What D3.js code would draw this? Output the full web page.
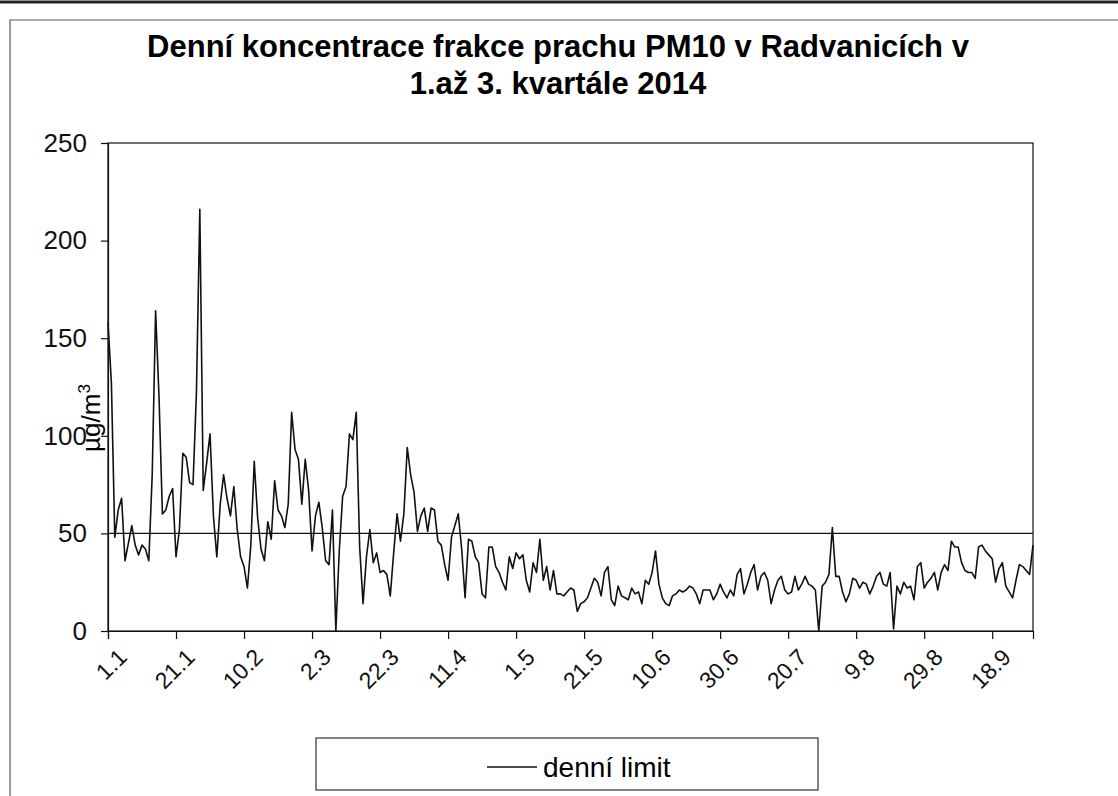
<!DOCTYPE html>
<html>
<head>
<meta charset="utf-8">
<script src="https://cdn.jsdelivr.net/npm/d3@7"></script>
<style>
  body { margin: 0; background: #fff; }
  svg { display: block; font-family: "Liberation Sans", Arial, sans-serif; }
</style>
</head>
<body>
<svg id="chart" width="1118" height="796"></svg>
<script>
// chart texts
const titleLines = ["Denní koncentrace frakce prachu PM10 v Radvanicích v", "1.až 3. kvartále 2014"];
const yTicks = [0, 50, 100, 150, 200, 250];
const tickEvery = 20;
const limitValue = 50;
const legendLabel = "denní limit";

// daily PM10, 1.1.2014 - 30.9.2014 (µg/m3)
const pm10 = [
  158, 127, 48, 62, 68, 36, 45, 54, 44, 39,
  44, 42, 36, 80, 164, 120, 60, 62, 69, 73,
  38, 52, 91, 89, 76, 75, 122, 216, 72, 86,
  101, 59, 38, 65, 80, 68, 59, 74, 52, 38,
  33, 22, 44, 87, 58, 42, 36, 56, 47, 77,
  62, 59, 53, 65, 112, 93, 88, 65, 88, 72,
  41, 59, 66, 53, 36, 34, 62, 0, 41, 69,
  74, 101, 98, 112, 43, 14, 38, 52, 35, 40,
  30, 31, 29, 18, 40, 60, 46, 60, 94, 80,
  71, 51, 59, 63, 51, 63, 62, 46, 44, 34,
  26, 48, 54, 60, 42, 17, 47, 46, 38, 35,
  19, 17, 43, 43, 33, 30, 25, 21, 38, 32,
  40, 37, 39, 26, 20, 35, 30, 47, 26, 33,
  21, 31, 19, 19, 18, 20, 22, 21, 10, 14,
  15, 17, 22, 27, 25, 18, 30, 33, 16, 13,
  23, 18, 17, 16, 22, 19, 20, 14, 26, 24,
  30, 41, 24, 17, 14, 13, 18, 19, 21, 20,
  21, 23, 22, 19, 14, 21, 21, 21, 16, 19,
  24, 20, 17, 21, 18, 29, 32, 19, 24, 30,
  34, 21, 28, 30, 26, 14, 21, 26, 28, 21,
  19, 20, 28, 21, 24, 28, 24, 23, 21, 0,
  23, 25, 29, 53, 28, 28, 20, 15, 19, 27,
  26, 22, 25, 24, 19, 23, 28, 30, 24, 23,
  30, 1, 23, 19, 25, 22, 23, 16, 33, 35,
  22, 25, 27, 30, 21, 30, 34, 31, 46, 43,
  43, 35, 31, 30, 30, 27, 43, 44, 41, 39,
  37, 25, 32, 35, 23, 20, 17, 26, 34, 33,
  31, 29, 44
];

const days = d3.timeDay.range(new Date(2014, 0, 1), new Date(2014, 9, 1));
const fmt = d3.timeFormat("%-d.%-m");
const tickIdx = d3.range(0, days.length, tickEvery);

const svg = d3.select("#chart");

// frame of the chart sheet
svg.append("line")
  .attr("x1", 0).attr("x2", 1118).attr("y1", 2).attr("y2", 2)
  .attr("stroke", "#222").attr("stroke-width", 3);
svg.append("path")
  .attr("d", "M10,796V20H1118")
  .attr("fill", "none").attr("stroke", "#555").attr("stroke-width", 1.2);

// title
svg.append("g").selectAll("text")
  .data(titleLines)
  .enter().append("text")
  .attr("x", 558)
  .attr("y", (d, i) => 57 + i * 37)
  .attr("text-anchor", "middle")
  .style("font-size", "31px")
  .style("font-weight", "bold")
  .text(d => d);

// scales
const x = d3.scaleLinear().domain([0, days.length - 1]).range([108, 1033]);
const y = d3.scaleLinear().domain([0, 250]).range([631, 143]);

// plot border
svg.append("rect")
  .attr("x", x(0)).attr("y", y(250))
  .attr("width", x(days.length - 1) - x(0))
  .attr("height", y(0) - y(250))
  .attr("fill", "none").attr("stroke", "#111").attr("stroke-width", 1.2);

// y axis
const yAxis = svg.append("g")
  .attr("transform", "translate(" + x(0) + ",0)")
  .call(d3.axisLeft(y).tickValues(yTicks).tickSize(7).tickPadding(14));
yAxis.selectAll("text").style("font-size", "26px").attr("fill", "#111");

// x axis
const xAxis = svg.append("g")
  .attr("transform", "translate(0," + y(0) + ")")
  .call(d3.axisBottom(x).tickValues(tickIdx).tickSize(8).tickFormat(i => fmt(days[i])));
xAxis.selectAll("text")
  .style("font-size", "23px")
  .attr("fill", "#111")
  .attr("text-anchor", "end")
  .attr("dy", "0.35em")
  .attr("transform", "translate(14,22) rotate(-45)")
  .attr("y", 0).attr("x", 0);
svg.selectAll(".domain, .tick line").attr("stroke", "#111").attr("stroke-width", 1.2);

// y axis title
svg.append("text")
  .attr("transform", "translate(100,418) rotate(-90)")
  .attr("text-anchor", "middle")
  .style("font-size", "26px")
  .html("µg/m<tspan dy='-10' font-size='17px'>3</tspan>");

// daily limit
svg.append("line")
  .attr("x1", x(0)).attr("x2", x(days.length - 1))
  .attr("y1", y(limitValue)).attr("y2", y(limitValue))
  .attr("stroke", "#111").attr("stroke-width", 1.3);

// data line
svg.append("path")
  .datum(pm10)
  .attr("fill", "none")
  .attr("stroke", "#111")
  .attr("stroke-width", 1.6)
  .attr("stroke-linejoin", "round")
  .attr("d", d3.line().x((d, i) => x(i)).y(d => y(d)));

// legend
const lg = svg.append("g");
lg.append("rect")
  .attr("x", 316).attr("y", 738).attr("width", 502).attr("height", 52)
  .attr("fill", "#fff").attr("stroke", "#333").attr("stroke-width", 1.2);
lg.append("line")
  .attr("x1", 487).attr("x2", 537).attr("y1", 767).attr("y2", 767)
  .attr("stroke", "#111").attr("stroke-width", 1.3);
lg.append("text")
  .attr("x", 543).attr("y", 767).attr("dy", "0.35em")
  .style("font-size", "28px")
  .text(legendLabel);
</script>
</body>
</html>
